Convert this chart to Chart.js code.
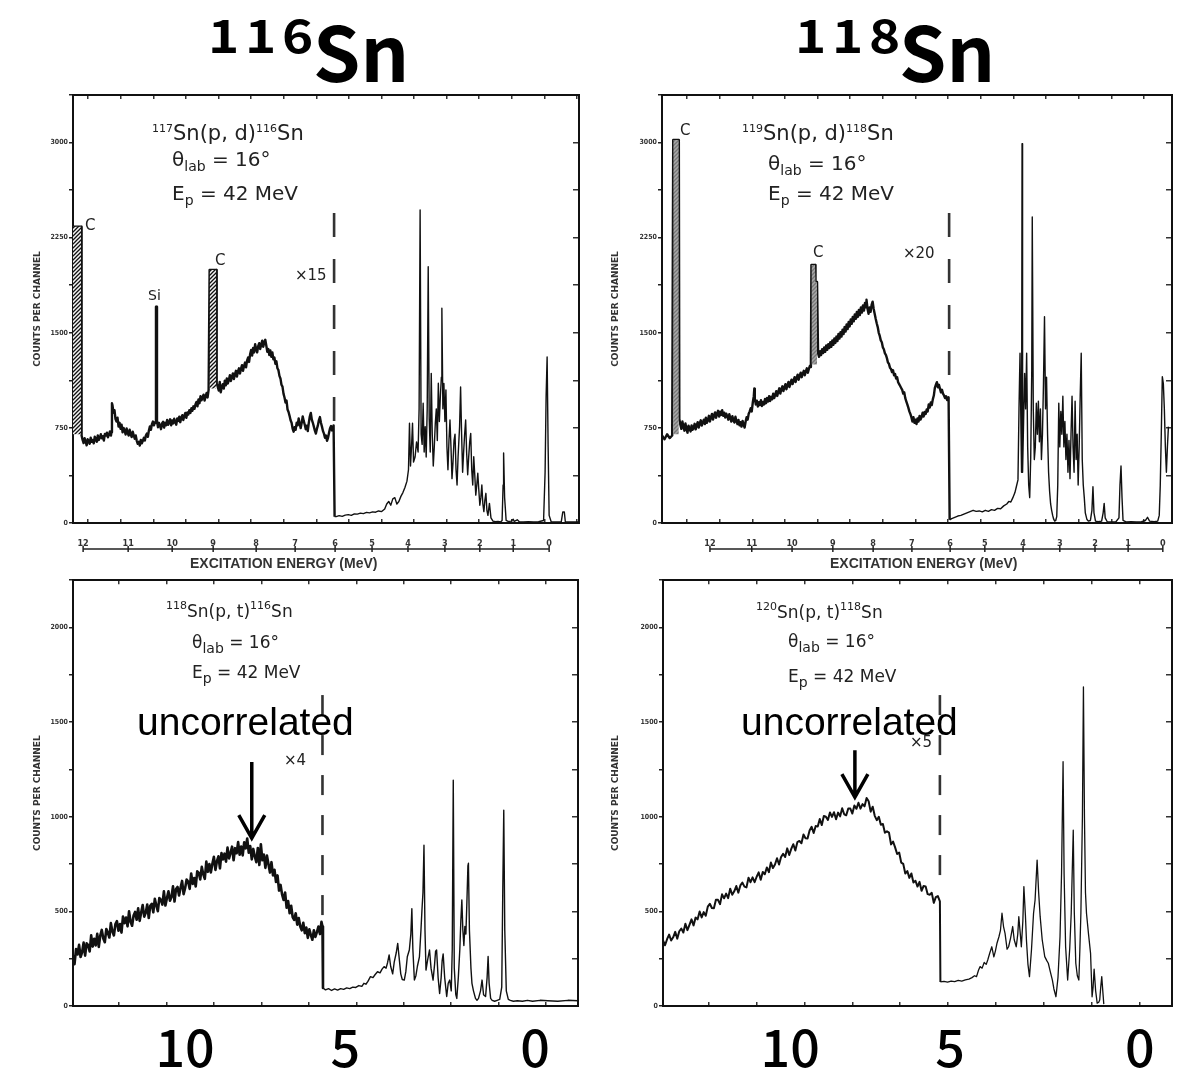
<!DOCTYPE html>
<html>
<head>
<meta charset="utf-8">
<script src="https://cdn.jsdelivr.net/npm/chart.js@4.4.1/dist/chart.umd.min.js"></script>
<style>
  body { margin: 0; background: #fff; width: 1190px; height: 1068px; position: relative; overflow: hidden; }
  canvas { position: absolute; }
  .t { position: absolute; white-space: nowrap; line-height: 1; color: #222; font-family: 'DejaVu Sans', sans-serif; }
  .s { font-size: 11px; line-height: 0; vertical-align: 8px; }
  .b { font-size: 14px; line-height: 0; vertical-align: -5px; }
  .big { font-family: 'Noto Sans CJK JP', sans-serif; font-weight: 700; color: #000; }
  .sup { font-size: 46px; letter-spacing: 5px; transform: scaleX(1.15); transform-origin: left top; }
  .unc { font-family: 'Liberation Sans', sans-serif; font-size: 39px; color: #000; }
  .axt { font-family: 'Liberation Sans', sans-serif; font-weight: 700; font-size: 14px; color: #333; }
</style>
</head>
<body>
<canvas id="c-tl" width="565" height="500" style="left:28px;top:85px"></canvas>
<canvas id="c-tr" width="580" height="500" style="left:606px;top:85px"></canvas>
<canvas id="c-bl" width="565" height="493" style="left:28px;top:575px"></canvas>
<canvas id="c-br" width="580" height="493" style="left:606px;top:575px"></canvas>

<!-- titres -->
<div class="t big sup" style="left:208px;top:10px">116</div>
<div class="t big" style="left:313px;top:11px;font-size:76px">Sn</div>
<div class="t big sup" style="left:795px;top:10px">118</div>
<div class="t big" style="left:899px;top:11px;font-size:76px">Sn</div>

<!-- haut gauche -->
<div class="t" style="left:152px;top:123px;font-size:21px"><span class="s">117</span>Sn(p, d)<span class="s">116</span>Sn</div>
<div class="t" style="left:172px;top:149px;font-size:20px">θ<span class="b">lab</span> = 16°</div>
<div class="t" style="left:172px;top:183px;font-size:20px">E<span class="b">p</span> = 42 MeV</div>
<div class="t" style="left:85px;top:218px;font-size:15px">C</div>
<div class="t" style="left:215px;top:253px;font-size:15px">C</div>
<div class="t" style="left:148px;top:288px;font-size:14px">Si</div>
<div class="t" style="left:295px;top:268px;font-size:15px">×15</div>
<div class="t axt" style="left:190px;top:556px">EXCITATION ENERGY (MeV)</div>

<!-- haut droite -->
<div class="t" style="left:742px;top:123px;font-size:21px"><span class="s">119</span>Sn(p, d)<span class="s">118</span>Sn</div>
<div class="t" style="left:768px;top:153px;font-size:20px">θ<span class="b">lab</span> = 16°</div>
<div class="t" style="left:768px;top:183px;font-size:20px">E<span class="b">p</span> = 42 MeV</div>
<div class="t" style="left:680px;top:123px;font-size:15px">C</div>
<div class="t" style="left:813px;top:245px;font-size:15px">C</div>
<div class="t" style="left:903px;top:246px;font-size:15px">×20</div>
<div class="t axt" style="left:830px;top:556px">EXCITATION ENERGY (MeV)</div>

<!-- bas gauche -->
<div class="t" style="left:166px;top:603px;font-size:17px"><span class="s">118</span>Sn(p, t)<span class="s">116</span>Sn</div>
<div class="t" style="left:192px;top:634px;font-size:17px">θ<span class="b">lab</span> = 16°</div>
<div class="t" style="left:192px;top:664px;font-size:17px">E<span class="b">p</span> = 42 MeV</div>
<div class="t" style="left:284px;top:753px;font-size:15px">×4</div>
<div class="t unc" style="left:137px;top:702px">uncorrelated</div>

<!-- bas droite -->
<div class="t" style="left:756px;top:604px;font-size:17px"><span class="s">120</span>Sn(p, t)<span class="s">118</span>Sn</div>
<div class="t" style="left:788px;top:633px;font-size:17px">θ<span class="b">lab</span> = 16°</div>
<div class="t" style="left:788px;top:668px;font-size:17px">E<span class="b">p</span> = 42 MeV</div>
<div class="t" style="left:910px;top:735px;font-size:15px">×5</div>
<div class="t unc" style="left:741px;top:702px">uncorrelated</div>

<script>
// Spectres : [canal, coups par canal]
const tlSpectrum = [
  [0,2337],[16,2337],[17,690],[19,655],[21,630],[23,668],[25,642],[27,612],[29,660],[31,648],[33,625],[35,672],[37,640],[39,655],[41,628],[43,680],[45,662],[47,640],[49,690],[51,655],[53,672],[55,700],[57,668],[59,685],[61,650],[63,702],[65,690],[67,712],[69,676],[71,695],[73,722],[75,690],[76,715],
  [77,944],[78,930],[80,870],[82,890],[84,820],[86,800],[88,830],[90,760],[92,790],[94,742],[96,775],[98,715],[100,750],[102,728],[104,698],[106,745],[108,712],[110,690],[112,735],[114,700],[116,678],[118,720],[120,692],[122,665],[124,690],[126,648],[128,625],[130,640],[132,610],[134,655],[136,628],[138,648],[140,672],[142,650],[144,690],[146,705],[148,680],[150,730],[152,762],[154,735],[156,780],[158,800],[160,770],[162,795],[163,790],
  [164,1706],[165,1706],[166,800],[168,755],[170,790],[172,768],[174,740],[176,785],[178,798],[180,752],[182,790],[184,770],[186,812],[188,775],[190,795],[192,818],[194,770],[196,808],[198,785],[200,822],[202,798],[204,775],[206,825],[208,805],[210,838],[212,795],[214,830],[216,850],[218,812],[220,845],[222,868],[224,830],[226,872],[228,855],[230,890],[232,868],[234,905],[236,885],[238,920],[240,900],[242,935],[244,955],[246,920],[248,975],[250,945],[252,1000],[254,968],[256,990],[258,1012],[260,965],[262,998],[264,1025],[266,990],[268,1050],
  [270,1995],[283,1995],[284,1100],[286,1075],[288,1045],[290,1112],[292,1030],[294,1070],[296,1095],[298,1060],[300,1122],[302,1085],[304,1140],[306,1100],[308,1128],[310,1165],[312,1120],[314,1150],[316,1180],[318,1135],[320,1172],[322,1200],[324,1155],[326,1195],[328,1220],[330,1178],[332,1215],[334,1245],[336,1200],[338,1238],[340,1265],[342,1228],[344,1280],[346,1305],[348,1270],[350,1330],[352,1365],[354,1320],[356,1380],[358,1345],[360,1410],[362,1370],[364,1345],[366,1395],[368,1418],[370,1372],[372,1405],[374,1438],[376,1390],[378,1425],[380,1445],[382,1400],[384,1350],[386,1372],[388,1325],[390,1360],[392,1310],[394,1345],[396,1290],[398,1305],[400,1255],[402,1275],[404,1220],[406,1205],[408,1160],[410,1140],[412,1090],[414,1075],[416,1020],[418,990],[420,950],[422,965],[424,895],[426,875],[428,845],[430,810],[432,790],[434,745],[436,720],[438,755],[440,735],[442,790],[444,770],[446,825],[448,785],[450,748],[452,790],[454,840],[456,805],[458,775],[460,740],[462,768],[464,725],[466,790],[468,840],[470,868],[472,815],[474,790],[476,760],[478,728],[480,705],[482,742],[484,770],[486,812],[488,835],[490,790],[492,760],[494,725],[496,705],[498,672],[500,690],[502,648],[504,672],[506,712],[508,748],[510,765],[512,730],[514,760],[515,770],
  [517,50],[520,50],[526,58],[532,52],[538,62],[544,66],[550,60],[556,72],[562,70],[568,78],[574,74],[580,84],[586,80],[592,88],[598,85],[604,95],[610,90],[616,110],[620,150],[624,170],[628,140],[632,190],[636,200],[640,150],[644,170],[648,210],[652,240],[656,280],[660,330],[663,420],
  [665,786],[667,450],[669,600],[671,786],[673,480],[676,520],[679,640],[682,560],[684,900],[686,2468],[688,700],[690,620],[692,944],[694,560],[696,760],[698,520],[700,900],[702,2021],[704,820],[706,560],[708,1180],[710,700],[712,450],[714,600],[716,786],[718,900],[720,650],[722,1102],[724,800],[726,1000],[728,1150],[729,1693],[731,900],[733,1100],[735,800],[737,1049],[739,600],[741,420],[743,650],[745,812],[747,600],[749,350],[751,480],[753,650],[755,700],[757,420],[759,300],[761,520],[764,760],[766,1072],[768,700],[770,400],[772,560],[774,700],[776,812],[778,550],[780,380],[782,520],[784,640],[786,707],[788,420],[790,300],[792,523],[794,380],[796,220],[798,300],[800,392],[802,260],[804,140],[806,200],[808,300],[810,150],[812,90],[814,180],[816,234],[818,100],[820,60],[823,155],[826,40],[830,15],[835,10],[840,12],[845,8],[848,20],
  [850,300],[851,552],[853,200],[856,20],[860,12],[866,15],[870,30],[872,12],[878,25],[882,10],[890,8],[900,10],[910,8],[920,10],[930,20],[933,400],[935,1000],[937,1309],[939,600],[941,60],[945,10],[955,8],[965,10],[968,87],[971,87],[973,10],[985,8],[1000,8]
];

const trSpectrum = [
  [0,690],[5,660],[10,700],[15,670],[20,690],[22,3020],[33,3020],[34,820],[36,775],[38,742],[40,800],[42,760],[44,728],[46,785],[48,740],[50,712],[52,768],[54,745],[56,722],[58,770],[60,735],[62,750],[64,782],[66,738],[68,768],[70,795],[72,752],[74,785],[76,810],[78,768],[80,792],[82,815],[84,780],[86,830],[88,790],[90,812],[92,845],[94,800],[96,835],[98,860],[100,815],[102,848],[104,872],[106,830],[108,862],[110,885],[112,840],[114,878],[116,852],[118,890],[120,845],[122,870],[124,832],[126,862],[128,840],[130,815],[132,858],[134,825],[136,800],[138,842],[140,810],[142,792],[144,838],[146,805],[148,780],[150,812],[152,770],[154,795],[156,760],[158,805],[160,775],[162,752],[164,800],[166,835],[168,815],[170,862],[172,880],[174,905],[176,880],[178,950],[180,1000],[181,1060],[182,980],[184,935],[186,965],[188,918],[190,952],[192,930],[194,968],[196,922],[198,955],[200,935],[202,978],[204,945],[206,985],[208,958],[210,1000],[212,962],[214,995],[216,975],[218,1020],[220,985],[222,1010],[224,1040],[226,1002],[228,1035],[230,1062],[232,1020],[234,1055],[236,1078],[238,1040],[240,1070],[242,1095],[244,1055],[246,1088],[248,1112],[250,1072],[252,1105],[254,1130],[256,1095],[258,1125],[260,1150],[262,1112],[264,1145],[266,1170],[268,1130],[270,1162],[272,1185],[274,1150],[276,1178],[278,1200],[280,1165],[282,1195],[284,1220],[286,1185],[288,1215],[290,1240],[291,1230],[292,1300],
  [293,2035],[300,2035],[301,1900],[304,1900],[306,1340],[308,1310],[310,1355],[312,1325],[314,1370],[316,1340],[318,1385],[320,1350],[322,1400],[324,1365],[326,1410],[328,1380],[330,1425],[332,1390],[334,1440],[336,1405],[338,1455],[340,1420],[342,1470],[344,1435],[346,1490],[348,1455],[350,1505],[352,1470],[354,1525],[356,1490],[358,1545],[360,1510],[362,1565],[364,1530],[366,1585],[368,1550],[370,1605],[372,1570],[374,1625],[376,1590],[378,1645],[380,1610],[382,1665],[384,1625],[386,1680],[388,1640],[390,1700],[392,1660],[394,1715],[396,1675],[398,1735],[400,1700],[401,1760],[403,1690],[405,1650],[407,1700],[409,1665],[411,1720],[413,1745],[415,1690],[417,1650],[419,1610],[421,1575],[423,1545],[425,1500],[427,1475],[429,1440],[431,1425],[433,1385],[435,1370],[437,1340],[439,1325],[441,1300],[443,1265],[445,1255],[447,1225],[449,1215],[451,1190],[453,1205],[455,1165],[457,1175],[459,1140],[461,1150],[463,1110],[465,1095],[467,1080],[469,1065],[471,1050],[473,1020],[475,1030],[477,985],[479,960],[481,935],[483,910],[485,880],[487,860],[489,835],[491,800],[493,835],[495,790],[497,815],[499,780],[501,825],[503,800],[505,845],[507,815],[509,835],[511,870],[513,840],[515,875],[517,860],[519,895],[521,880],[523,935],[525,910],[527,950],[529,930],[531,975],[533,1005],[535,1065],[537,1090],[539,1110],[541,1070],[543,1090],[545,1060],[547,1030],[549,1050],[551,1020],[553,1005],[555,985],[557,1000],[559,970],[561,990],[562,960],
  [564,25],[568,35],[574,45],[580,55],[586,60],[592,70],[598,80],[604,90],[610,100],[616,92],[622,95],[628,88],[634,100],[640,92],[646,105],[652,100],[658,115],[664,112],[670,135],[676,150],[680,170],[684,165],[688,200],[692,240],[695,290],[698,340],
  [700,900],[702,1338],[704,700],[705,400],[706,2990],[707,400],[709,800],[711,1180],[713,900],[715,1338],[717,600],[719,300],[721,200],[723,520],[725,1200],[726,2413],[728,900],[730,500],[732,600],[734,944],[736,700],[738,960],[740,640],[742,900],[744,500],[746,700],[748,1100],[750,1627],[752,900],[754,1150],[756,700],[758,400],[760,250],[762,150],[764,100],[766,60],[768,30],[770,15],[772,20],[774,50],[776,300],[778,944],[780,600],[782,880],[784,700],[786,1000],[788,600],[790,800],[792,500],[794,700],[796,400],[798,650],[800,350],[802,700],[804,1000],[806,600],[808,400],[810,960],[812,500],[814,700],[816,300],[818,600],[820,1000],[822,1338],[824,500],[826,300],[828,200],[830,80],[833,30],[836,15],[840,20],[843,100],[845,286],[847,80],[850,15],[855,10],[862,15],[865,80],[867,155],[869,40],[873,10],[880,8],[890,10],[896,40],[898,300],[900,450],[902,200],[904,20],[910,8],[920,10],[930,8],[940,10],[948,20],[952,45],[956,15],[965,10],[972,15],[975,60],[977,300],[979,700],[981,1154],[983,1100],[985,900],[987,600],[989,400],[991,600],[993,760]
];

const blSpectrum = [
  [0,270],[3,221],[6,301],[9,272],[12,323],[15,259],[18,284],[21,335],[24,266],[27,331],[30,322],[33,288],[36,373],[39,314],[42,355],[45,320],[48,381],[51,312],[54,372],[57,402],[60,357],[63,337],[66,407],[69,387],[72,362],[75,438],[78,393],[81,373],[84,433],[87,448],[90,398],[93,433],[96,388],[99,473],[102,438],[105,467],[108,421],[111,500],[114,445],[117,424],[120,478],[123,497],[126,456],[129,516],[132,450],[135,494],[138,533],[141,472],[144,492],[147,536],[150,465],[153,530],[156,540],[159,495],[162,566],[165,531],[168,501],[171,571],[174,561],[177,536],[180,606],[183,531],[186,571],[189,606],[192,556],[195,576],[198,632],[201,552],[204,618],[207,629],[210,584],[213,625],[216,661],[219,591],[222,622],[225,668],[228,658],[231,619],[234,700],[237,645],[240,676],[243,632],[246,712],[249,703],[252,669],[255,735],[258,696],[261,672],[264,763],[267,709],[270,750],[273,706],[276,752],[279,788],[282,719],[285,765],[288,791],[291,727],[294,808],[297,774],[300,805],[303,763],[306,837],[309,780],[312,809],[315,842],[318,770],[321,834],[324,807],[327,866],[330,799],[333,843],[336,796],[339,865],[342,833],[345,885],
  [348,810],[351,845],[354,775],[357,830],[360,790],[363,760],[366,835],[369,745],[372,855],[375,770],[378,800],[381,730],[384,795],[387,750],[390,705],[393,760],[396,690],[399,720],[402,655],[405,690],[408,610],[411,640],[414,590],[417,560],[420,600],[423,520],[426,555],[429,490],[432,530],[435,470],[438,455],[441,490],[444,430],[447,465],[450,420],[453,400],[456,440],[459,385],[462,415],[465,360],[468,405],[471,375],[474,350],[477,400],[480,365],[483,390],[486,420],[489,380],[492,445],[494,420],
  [495,95],[500,85],[506,92],[512,82],[518,90],[524,84],[530,92],[536,88],[542,96],[548,92],[554,100],[560,98],[566,108],[572,104],[576,120],[580,115],[584,130],[589,155],[594,150],[598,165],[603,181],[608,175],[612,195],[616,208],[620,200],[623,230],[626,270],[629,210],[633,170],[636,230],[640,280],[643,331],[646,250],[649,170],[652,140],[656,137],[659,180],[662,260],[666,296],[669,380],[671,514],[673,300],[676,137],[679,160],[682,210],[686,260],[689,400],[691,507],[693,600],[695,850],[697,400],[699,190],[702,240],[706,296],[709,200],[713,137],[716,220],[718,290],[720,296],[723,150],[726,66],[729,150],[731,240],[733,275],[736,150],[740,50],[743,120],[746,137],[749,80],[751,300],[753,1193],[755,200],[758,60],[760,40],[763,150],[766,300],[768,450],[770,560],[772,400],[774,320],[776,420],[778,380],[780,550],[782,740],[783,754],[785,400],[788,200],[790,120],[793,80],[797,40],[800,30],[803,40],[807,80],[810,137],[813,60],[817,50],[820,150],[822,262],[824,120],[827,40],[830,30],[835,25],[840,30],[845,35],[849,100],[851,600],[853,1034],[855,400],[858,80],[862,35],[866,30],[872,25],[880,28],[890,25],[900,30],[910,25],[925,30],[940,28],[960,25],[980,30],[1000,28]
];

const brSpectrum = [
  [0,347],[4,321],[8,353],[12,377],[16,346],[20,363],[24,392],[28,356],[32,395],[36,409],[40,388],[44,435],[48,401],[52,429],[56,458],[60,426],[64,467],[68,458],[72,499],[76,468],[80,496],[84,477],[88,525],[92,540],[96,518],[100,517],[104,562],[108,561],[112,538],[116,590],[120,569],[124,594],[128,570],[132,620],[136,588],[140,606],[144,634],[148,599],[152,637],[156,652],[160,631],[164,627],[168,678],[172,654],[176,680],[180,654],[184,683],[188,706],[192,667],[196,708],[200,696],[204,732],[208,707],[212,758],[216,729],[220,748],[224,781],[228,748],[232,787],[236,804],[240,787],[244,833],[248,798],[252,830],[256,855],[260,822],[264,866],[268,872],[272,860],[276,906],[280,886],[284,885],[288,927],[292,947],[296,914],[300,951],[304,948],[308,988],[312,956],[316,1004],[320,1000],[324,983],[328,1023],[332,999],[336,1024],[340,987],[344,1022],[348,1002],[352,1045],[356,1013],[360,1008],[364,1044],[368,1043],[372,1017],[376,1060],[380,1042],[384,1074],[388,1043],[392,1067],[396,1055],[400,1099],[404,1082],[408,1027],[412,1053],[416,1005],[420,982],[424,1000],[428,958],[432,962],[436,916],[440,923],[444,916],[448,854],[452,869],[456,838],[460,803],[464,811],[468,758],[472,751],[476,700],[480,713],[484,677],[488,700],[492,653],[496,662],[500,631],[504,656],[508,609],[512,634],[516,632],[520,591],[524,588],[528,598],[532,545],[536,575],[540,581],[544,553],
  [545,127],[552,130],[559,126],[566,132],[573,129],[580,135],[587,132],[594,138],[601,142],[607,150],[612,160],[616,155],[620,190],[623,208],[627,200],[631,230],[635,220],[638,243],[642,280],[646,313],[650,260],[653,290],[656,330],[660,366],[663,400],[666,490],[669,420],[672,384],[676,300],[679,313],[683,360],[687,420],[690,350],[694,313],[697,380],[699,472],[702,380],[704,313],[707,450],[709,631],[712,480],[714,350],[717,220],[720,155],[724,300],[728,490],[731,560],[735,771],[738,600],[741,472],[745,350],[750,261],[754,240],[757,226],[761,180],[765,137],[768,90],[772,49],[776,150],[780,366],[783,700],[786,1291],[788,700],[791,313],[795,137],[799,300],[802,490],[806,929],[808,500],[811,226],[814,160],[817,137],[819,300],[821,490],[824,1000],[826,1686],[828,1000],[830,600],[832,490],[836,380],[840,278],[843,49],[845,100],[847,195],[850,80],[853,15],[856,20],[858,32],[860,100],[862,155],[864,80],[866,10]
];

// Pics de contamination (C) hachurés : [canal, coups]
const tlHatch1 = [[0,2337],[16,2337]];
const tlHatch2 = [[270,1995],[283,1995]];
const trHatch1 = [[22,3020],[33,3020]];
const trHatch2 = [[293,2035],[300,2035],[301,1900],[304,1900]];

// Graduations en énergie d'excitation (MeV) et canaux correspondants
const energyTicks = [12,11,10,9,8,7,6,5,4,3,2,1,0];
const tlEnergyCh = [20,109,196,277,362,439,518,591,662,735,804,870,941];
const trEnergyCh = [94,176,255,335,414,490,565,633,708,780,849,914,982];
const bottomTicks = [10,5,0];
const blBottomCh = [222,539,915];
const brBottomCh = [250,564,937];

// Ligne de changement d'échelle (×15, ×20, ×4, ×5) : [canal, haut, bas]
const tlCut = [516, 2445, 760];
const trCut = [563, 2445, 1000];
const blCut = [494, 1643, 440];
const brCut = [544, 1643, 600];

// Flèches "uncorrelated" : pointe et queue [canal, coups]
const blArrow = { tip: [354, 887], tail: [354, 1289] };
const brArrow = { tip: [377, 1104], tail: [377, 1352] };

// Motif hachuré
function makeHatch(dark) {
  const c = document.createElement('canvas');
  c.width = 4; c.height = 4;
  const g = c.getContext('2d');
  g.fillStyle = dark ? '#f4f4f4' : '#a8a8a8';
  g.fillRect(0, 0, 4, 4);
  g.strokeStyle = dark ? '#111' : '#777';
  g.lineWidth = 1.3;
  g.beginPath();
  g.moveTo(0, 4); g.lineTo(4, 0);
  g.moveTo(-1, 1); g.lineTo(1, -1);
  g.moveTo(3, 5); g.lineTo(5, 3);
  g.stroke();
  return g.createPattern(c, 'repeat');
}

// Règle sous les étiquettes d'énergie
const rulerPlugin = {
  id: 'ruler',
  afterDraw(chart, args, opts) {
    if (!opts.at) return;
    const g = chart.ctx, sx = chart.scales.x;
    const y = chart.chartArea.bottom + 26;
    const px = opts.at.map(v => sx.getPixelForValue(v));
    g.save();
    g.strokeStyle = '#222';
    g.lineWidth = 1.5;
    g.beginPath();
    g.moveTo(px[0], y);
    g.lineTo(px[px.length - 1], y);
    px.forEach(p => { g.moveTo(p, y - 3); g.lineTo(p, y + 3); });
    g.stroke();
    g.restore();
  }
};

// Flèche
const arrowPlugin = {
  id: 'arrow',
  afterDraw(chart, args, opts) {
    if (!opts.tip) return;
    const { x, y } = chart.scales;
    const tx = x.getPixelForValue(opts.tip[0]), ty = y.getPixelForValue(opts.tip[1]);
    const bx = x.getPixelForValue(opts.tail[0]), by = y.getPixelForValue(opts.tail[1]);
    const g = chart.ctx;
    g.save();
    g.strokeStyle = '#000';
    g.lineWidth = 3.5;
    g.beginPath();
    g.moveTo(bx, by); g.lineTo(tx, ty - 2);
    g.moveTo(tx - 13, ty - 23); g.lineTo(tx, ty); g.lineTo(tx + 13, ty - 23);
    g.stroke();
    g.restore();
  }
};

const pts = arr => arr.map(([x, y]) => ({ x, y }));
const smallFont = { family: "'DejaVu Sans Condensed', 'DejaVu Sans', sans-serif", size: 9, weight: 'bold' };

function spectrumChart(id, o) {
  const datasets = [];
  o.hatch.forEach(h => datasets.push({
    data: pts(h.pts), fill: { value: h.base }, backgroundColor: h.fill,
    borderWidth: 0, pointRadius: 0, tension: 0
  }));
  datasets.push({
    data: [{ x: o.cut[0], y: o.cut[1] }, { x: o.cut[0], y: o.cut[2] }],
    borderColor: '#333', borderWidth: 2.6, borderDash: o.dash, pointRadius: 0, fill: false
  });
  datasets.push({
    data: pts(o.spectrum), borderColor: '#111', pointRadius: 0, tension: 0, fill: false,
    borderJoinStyle: 'round', borderWidth: o.lw[0],
    segment: { borderWidth: c => c.p0.parsed.x >= o.cut[0] + 1 ? o.lw[1] : o.lw[0] }
  });

  const edge = [];
  for (let v = o.edge[0]; v < 1000; v += o.edge[1]) edge.push(v);
  const edgeAxis = (pos, weight) => ({
    type: 'linear', position: pos, min: 0, max: 1000, weight,
    afterBuildTicks: s => { s.ticks = edge.map(v => ({ value: v })); },
    afterFit: s => { s.height = 0; },
    ticks: { display: false },
    grid: { drawOnChartArea: false, tickLength: -4, color: '#333', lineWidth: 1.5 },
    border: { display: pos === 'top', color: '#111', width: 2 }
  });

  return new Chart(document.getElementById(id), {
    type: 'line',
    data: { datasets },
    plugins: [rulerPlugin, arrowPlugin],
    options: {
      responsive: false,
      animation: false,
      events: [],
      layout: { padding: { top: o.padTop, right: o.padRight, left: 0, bottom: 0 } },
      plugins: {
        legend: { display: false },
        tooltip: { enabled: false },
        ruler: o.ruler ? { at: o.xTicks } : {},
        arrow: o.arrow || {}
      },
      scales: {
        x: {
          type: 'linear', position: 'bottom', min: 0, max: 1000, weight: 1,
          afterBuildTicks: s => { s.ticks = o.xTicks.map(v => ({ value: v })); },
          afterFit: s => { s.height = 62; },
          ticks: {
            autoSkip: false, maxRotation: 0, minRotation: 0, padding: o.xPad,
            font: o.xFont, color: o.xColor,
            callback: (v, i) => String(o.xLabels[i])
          },
          grid: { display: false },
          border: { display: true, color: '#111', width: 2 }
        },
        x3: edgeAxis('bottom', 0),
        x2: edgeAxis('top', 0),
        y: {
          min: 0, max: o.yMax,
          afterFit: s => { s.width = o.yWidth; },
          ticks: {
            stepSize: o.yMinor, padding: 1, color: '#333',
            font: { family: "'DejaVu Sans Condensed', 'DejaVu Sans', sans-serif", size: 7, weight: 'bold' },
            callback: v => (v % o.yMajor === 0 ? String(v) : '')
          },
          grid: { drawOnChartArea: false, tickLength: 4, color: '#222', lineWidth: 1.5 },
          border: { display: true, color: '#111', width: 2 },
          title: {
            display: true, text: 'COUNTS PER CHANNEL', color: '#333', padding: { top: 4, bottom: 0 },
            font: { family: "'DejaVu Sans', sans-serif", size: 9, weight: 'bold' }
          }
        },
        y2: {
          position: 'right', min: 0, max: o.yMax,
          afterFit: s => { s.width = 0; },
          ticks: { display: false, stepSize: o.yMinor },
          grid: { drawOnChartArea: false, tickLength: -6, color: '#333', lineWidth: 1.5 },
          border: { display: true, color: '#111', width: 2 }
        }
      }
    }
  });
}

const dark = makeHatch(true), grey = makeHatch(false);
const bigFont = { family: "'Noto Sans CJK JP', sans-serif", size: 52, weight: '500' };

spectrumChart('c-tl', {
  spectrum: tlSpectrum, cut: tlCut, dash: [24, 22], lw: [2.4, 1.4],
  hatch: [{ pts: tlHatch1, base: 700, fill: dark }, { pts: tlHatch2, base: 1060, fill: dark }],
  yMax: 3375, yMinor: 375, yMajor: 750, yWidth: 45, padTop: 10, padRight: 14,
  xTicks: tlEnergyCh, xLabels: energyTicks, xFont: smallFont, xColor: '#333', xPad: 7,
  edge: [30, 64.4], ruler: true
});

spectrumChart('c-tr', {
  spectrum: trSpectrum, cut: trCut, dash: [24, 22], lw: [2.4, 1.4],
  hatch: [{ pts: trHatch1, base: 700, fill: grey }, { pts: trHatch2, base: 1250, fill: grey }],
  yMax: 3375, yMinor: 375, yMajor: 750, yWidth: 56, padTop: 10, padRight: 14,
  xTicks: trEnergyCh, xLabels: energyTicks, xFont: smallFont, xColor: '#333', xPad: 7,
  edge: [49, 64], ruler: true
});

spectrumChart('c-bl', {
  spectrum: blSpectrum, cut: blCut, dash: [20, 20], lw: [2.6, 1.4], hatch: [],
  yMax: 2250, yMinor: 250, yMajor: 500, yWidth: 45, padTop: 5, padRight: 15,
  xTicks: blBottomCh, xLabels: bottomTicks, xFont: bigFont, xColor: '#000', xPad: 2,
  edge: [91, 94], ruler: false, arrow: blArrow
});

spectrumChart('c-br', {
  spectrum: brSpectrum, cut: brCut, dash: [20, 20], lw: [2.0, 1.3], hatch: [],
  yMax: 2250, yMinor: 250, yMajor: 500, yWidth: 57, padTop: 5, padRight: 14,
  xTicks: brBottomCh, xLabels: bottomTicks, xFont: bigFont, xColor: '#000', xPad: 2,
  edge: [90, 94], ruler: false, arrow: brArrow
});
</script>
</body>
</html>
